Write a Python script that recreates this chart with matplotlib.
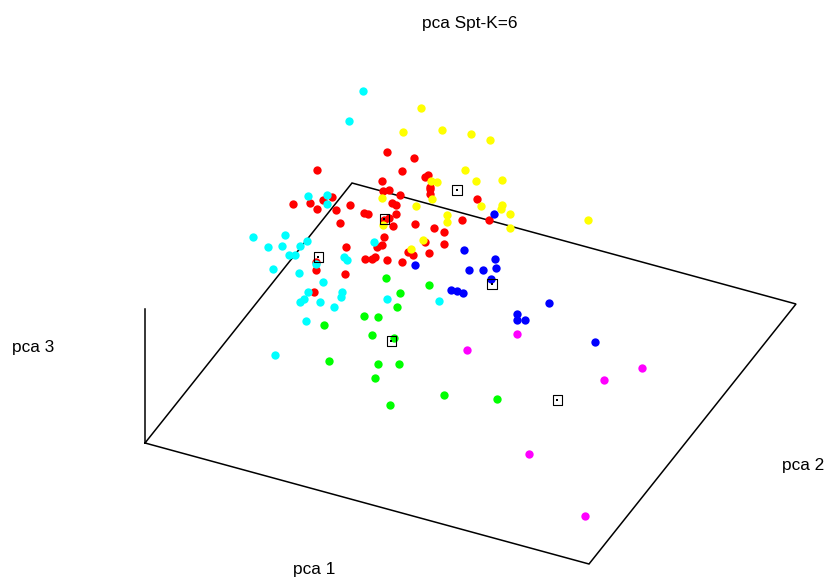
import matplotlib
matplotlib.use("Agg")
import matplotlib.pyplot as plt

plt.rcParams['font.family'] = ['Liberation Sans', 'DejaVu Sans']

# Projected positions (x, y in image pixels)
red = [(387,152),(414,158),(402,171),(382,181),(428,175),(425,177),(430,187),(430,189),(383,191),(389,190),
       (400,195),(430,194),(477,199),(392,203),(396,205),(364,213),(368,214),(396,214),(389,218),(384,220),
       (393,226),(415,224),(434,228),(444,232),(462,220),(489,220),(384,237),(382,245),(377,247),(425,242),
       (444,244),(408,252),(413,255),(429,253),(375,257),(372,259),(365,259),(387,260),(402,262),(317,170),
       (293,204),(310,203),(323,200),(332,197),(317,209),(336,210),(350,205),(340,223),(346,247),(316,262),
       (316,270),(345,274),(314,292)]
green = [(386,278),(400,293),(429,285),(397,307),(364,316),(378,317),(324,325),(372,335),(394,338),(329,361),
         (378,364),(399,364),(375,378),(390,405),(444,395),(497,399)]
blue = [(494,214),(464,250),(495,259),(496,268),(469,270),(483,270),(415,265),(491,279),(451,290),(457,291),
        (463,293),(549,303),(517,314),(517,320),(525,320),(595,342)]
cyan = [(363,91),(349,121),(308,196),(327,195),(327,204),(253,237),(268,247),(285,235),(282,246),(300,246),
        (307,241),(289,255),(295,255),(273,269),(299,273),(316,264),(344,257),(347,260),(323,282),(308,292),
        (342,292),(341,297),(304,299),(300,302),(320,302),(334,307),(306,321),(374,242),(387,299),(275,355),(439,301)]
magenta = [(517,334),(467,350),(604,380),(642,368),(529,454),(585,516)]
yellow = [(421,108),(403,132),(442,130),(471,134),(490,140),(465,170),(476,181),(502,180),(431,181),(437,182),
          (432,199),(382,198),(416,206),(481,206),(502,205),(501,209),(510,214),(510,228),(447,215),(447,222),
          (383,225),(423,240),(411,249),(588,220)]
centers = [(457,190),(384.5,219),(318.5,257),(492,284),(391.5,341),(557.5,400)]

box_x = [145,352,796,589,145]
box_y = [443,183,304,564,443]
zaxis_x = [145,145]
zaxis_y = [443,309]

title = "pca Spt-K=6"
xlabel, ylabel, zlabel = "pca 1", "pca 2", "pca 3"

fig = plt.figure(figsize=(8.28,5.81), dpi=100)
ax = fig.add_axes([0,0,1,1])
ax.set_xlim(0,828); ax.set_ylim(581,0); ax.axis('off')

ax.plot(box_x, box_y, color='black', lw=1.1, zorder=1, solid_joinstyle='miter')
ax.plot(zaxis_x, zaxis_y, color='black', lw=1.1, zorder=1)

for pts, col in [(red,'#ff0000'),(green,'#00ff00'),(blue,'#0000ff'),(cyan,'#00ffff'),(magenta,'#ff00ff'),(yellow,'#ffff00')]:
    ax.scatter(*zip(*pts), s=36, color=col, linewidths=0, zorder=2)

ax.scatter(*zip(*centers), s=44, marker='s', facecolors='none', edgecolors='black', linewidths=0.8, zorder=3)
ax.scatter(*zip(*centers), s=1.5, marker='s', color='black', linewidths=0, zorder=3)

fs = 12.4
ax.text(470,28,title,ha='center',va='baseline',fontsize=fs)
ax.text(314,574,xlabel,ha='center',va='baseline',fontsize=fs)
ax.text(803.5,470,ylabel,ha='center',va='baseline',fontsize=fs)
ax.text(33.5,352,zlabel,ha='center',va='baseline',fontsize=fs)

fig.savefig('out.png', dpi=100)
